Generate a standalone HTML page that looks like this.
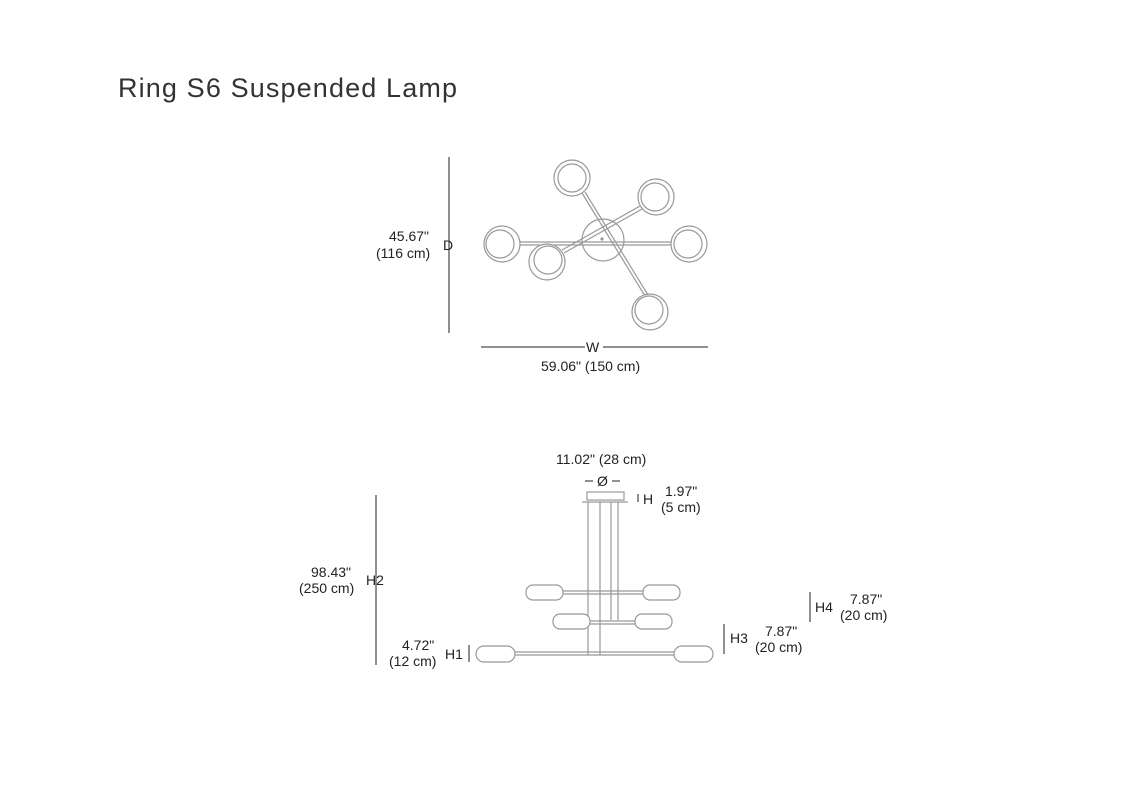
<!DOCTYPE html>
<html><head><style>
body{margin:0;background:#fff;}
svg{display:block}
text{font-family:"Liberation Sans",sans-serif;fill:#222;}
</style></head><body>
<svg width="1136" height="800" viewBox="0 0 1136 800">
<text x="118" y="97" font-size="27" textLength="339" style="fill:#333">Ring S6 Suspended Lamp</text>
<g stroke="#999" fill="none" stroke-width="1.2">
<circle cx="603" cy="240" r="21"/>
<line x1="518" y1="242" x2="672" y2="242"/><line x1="518" y1="245" x2="672" y2="245"/>
<line x1="582" y1="193" x2="645" y2="296"/><line x1="585" y1="192" x2="648" y2="295"/>
<line x1="640" y1="206" x2="562" y2="250"/><line x1="642" y1="209" x2="564" y2="253"/>
<g fill="#fff">
<circle cx="572" cy="178" r="18"/><circle cx="572" cy="178" r="14"/>
<circle cx="656" cy="197" r="18"/><circle cx="655" cy="197" r="14"/>
<circle cx="502" cy="244" r="18"/><circle cx="500" cy="244" r="14"/>
<circle cx="689" cy="244" r="18"/><circle cx="688" cy="244" r="14"/>
<circle cx="547" cy="262" r="18"/><circle cx="548" cy="260" r="14"/>
<circle cx="650" cy="312" r="18"/><circle cx="649" cy="310" r="14"/>
</g>
<circle cx="602" cy="239" r="1" fill="#999"/>
</g>
<g stroke="#222" stroke-width="1">
<line x1="449" y1="157" x2="449" y2="333"/>
<line x1="481" y1="347" x2="585" y2="347"/><line x1="603" y1="347" x2="708" y2="347"/>
<line x1="376" y1="495" x2="376" y2="665"/>
<line x1="469" y1="645" x2="469" y2="662"/>
<line x1="724" y1="624" x2="724" y2="654"/>
<line x1="810" y1="592" x2="810" y2="622"/>
<line x1="638" y1="494" x2="638" y2="502"/>
<line x1="585" y1="481" x2="593" y2="481"/><line x1="612" y1="481" x2="620" y2="481"/>
</g>
<text x="389" y="241" font-size="14">45.67"</text>
<text x="376" y="258" font-size="14">(116 cm)</text>
<text x="443" y="250" font-size="14">D</text>
<text x="586" y="352" font-size="14">W</text>
<text x="541" y="371" font-size="14">59.06" (150 cm)</text>
<text x="556" y="464" font-size="14">11.02" (28 cm)</text>
<text x="597" y="486" font-size="14">Ø</text>
<text x="643" y="504" font-size="14">H</text>
<text x="665" y="496" font-size="14">1.97"</text>
<text x="661" y="512" font-size="14">(5 cm)</text>
<text x="311" y="577" font-size="14">98.43"</text>
<text x="299" y="593" font-size="14">(250 cm)</text>
<text x="366" y="585" font-size="14">H2</text>
<text x="402" y="650" font-size="14">4.72"</text>
<text x="389" y="666" font-size="14">(12 cm)</text>
<text x="445" y="659" font-size="14">H1</text>
<text x="730" y="643" font-size="14">H3</text>
<text x="765" y="636" font-size="14">7.87"</text>
<text x="755" y="652" font-size="14">(20 cm)</text>
<text x="815" y="612" font-size="14">H4</text>
<text x="850" y="604" font-size="14">7.87"</text>
<text x="840" y="620" font-size="14">(20 cm)</text>
<g stroke="#999" fill="#fff" stroke-width="1.2">
<rect x="587" y="492" width="37" height="8"/>
<line x1="582" y1="502" x2="628" y2="502"/>
<line x1="588" y1="502" x2="588" y2="655"/><line x1="600" y1="502" x2="600" y2="655"/>
<line x1="611" y1="502" x2="611" y2="620"/><line x1="618" y1="502" x2="618" y2="620"/>
<line x1="560" y1="591" x2="645" y2="591"/><line x1="560" y1="594" x2="645" y2="594"/>
<line x1="590" y1="621" x2="635" y2="621"/><line x1="590" y1="624" x2="635" y2="624"/>
<line x1="515" y1="652" x2="678" y2="652"/><line x1="515" y1="655" x2="678" y2="655"/>
<rect x="526" y="585" width="37" height="15" rx="7"/>
<rect x="643" y="585" width="37" height="15" rx="7"/>
<rect x="553" y="614" width="37" height="15" rx="7"/>
<rect x="635" y="614" width="37" height="15" rx="7"/>
<rect x="476" y="646" width="39" height="16" rx="8"/>
<rect x="674" y="646" width="39" height="16" rx="8"/>
</g>
</svg>
</body></html>
